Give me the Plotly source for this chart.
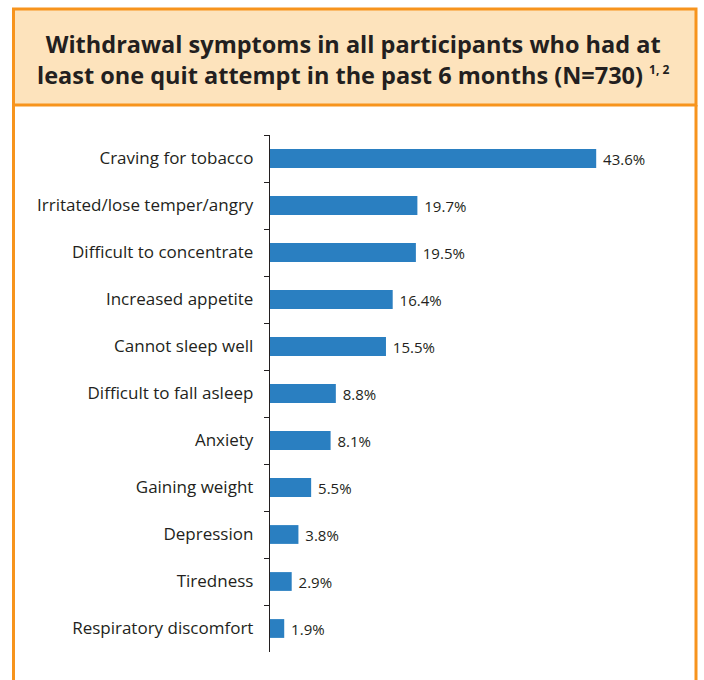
import plotly.graph_objects as go

# Withdrawal symptoms reported (percent of participants), top to bottom
symptoms = [
    "Craving for tobacco",
    "Irritated/lose temper/angry",
    "Difficult to concentrate",
    "Increased appetite",
    "Cannot sleep well",
    "Difficult to fall asleep",
    "Anxiety",
    "Gaining weight",
    "Depression",
    "Tiredness",
    "Respiratory discomfort",
]
percent = [43.6, 19.7, 19.5, 16.4, 15.5, 8.8, 8.1, 5.5, 3.8, 2.9, 1.9]
value_labels = [f" {v:.1f}%" for v in percent]

title_line1 = "Withdrawal symptoms in all participants who had at"
title_line2 = "least one quit attempt in the past 6 months (N=730)"
title_refs = "1, 2"

W, H = 704, 680
L, R, T, B = 270, 24, 135, 28
PW, PH = W - L - R, H - T - B

ORANGE = "#F7941D"
CREAM = "#FDE3BC"
BAR = "#2A7FC1"
TEXT = "#231F20"
FONT = "Open Sans"


def px_x(px):
    return (px - L) / PW


def px_y(py):
    return 1 - (py - T) / PH


fig = go.Figure(
    go.Bar(
        x=percent,
        y=symptoms,
        orientation="h",
        marker=dict(color=BAR, line=dict(width=0)),
        width=0.4,
        text=value_labels,
        textposition="outside",
        constraintext="none",
        textfont=dict(family=FONT, size=15, color=TEXT),
        cliponaxis=False,
        hoverinfo="skip",
    )
)

shapes = [
    # title band
    dict(type="rect", xref="paper", yref="paper",
         x0=px_x(13.5), x1=px_x(696), y0=px_y(105), y1=px_y(9),
         fillcolor=CREAM, line=dict(color=ORANGE, width=3), layer="below"),
    # side borders of the panel
    dict(type="line", xref="paper", yref="paper",
         x0=px_x(13.5), x1=px_x(13.5), y0=px_y(105), y1=px_y(H + 5),
         line=dict(color=ORANGE, width=3)),
    dict(type="line", xref="paper", yref="paper",
         x0=px_x(696), x1=px_x(696), y0=px_y(105), y1=px_y(H + 5),
         line=dict(color=ORANGE, width=3)),
]

title_html = (
    f"<b>{title_line1}</b><br>"
    f"<b>{title_line2}</b> "
    f"<b><sup><span style='font-size:12px'>{title_refs}</span></sup></b>"
)

annotations = [
    dict(xref="paper", yref="paper", x=px_x(353), y=px_y(59),
         text=title_html, showarrow=False, align="center",
         xanchor="center", yanchor="middle",
         font=dict(family=FONT, size=23.5, color=TEXT)),
]

fig.update_layout(
    width=W, height=H,
    margin=dict(l=L, r=R, t=T, b=B),
    paper_bgcolor="white", plot_bgcolor="white",
    showlegend=False,
    bargap=0.6,
    shapes=shapes,
    annotations=annotations,
    xaxis=dict(range=[0, 54.8], visible=False, fixedrange=True),
    yaxis=dict(
        autorange="reversed",
        showline=True, linecolor="#231F20", linewidth=1.4,
        ticks="outside", tickson="boundaries", ticklen=5,
        tickcolor="#231F20", tickwidth=1.4,
        ticklabelstandoff=12,
        tickfont=dict(family=FONT, size=17, color=TEXT),
        showgrid=False, zeroline=False, fixedrange=True,
    ),
)

fig.write_html("out.html")
